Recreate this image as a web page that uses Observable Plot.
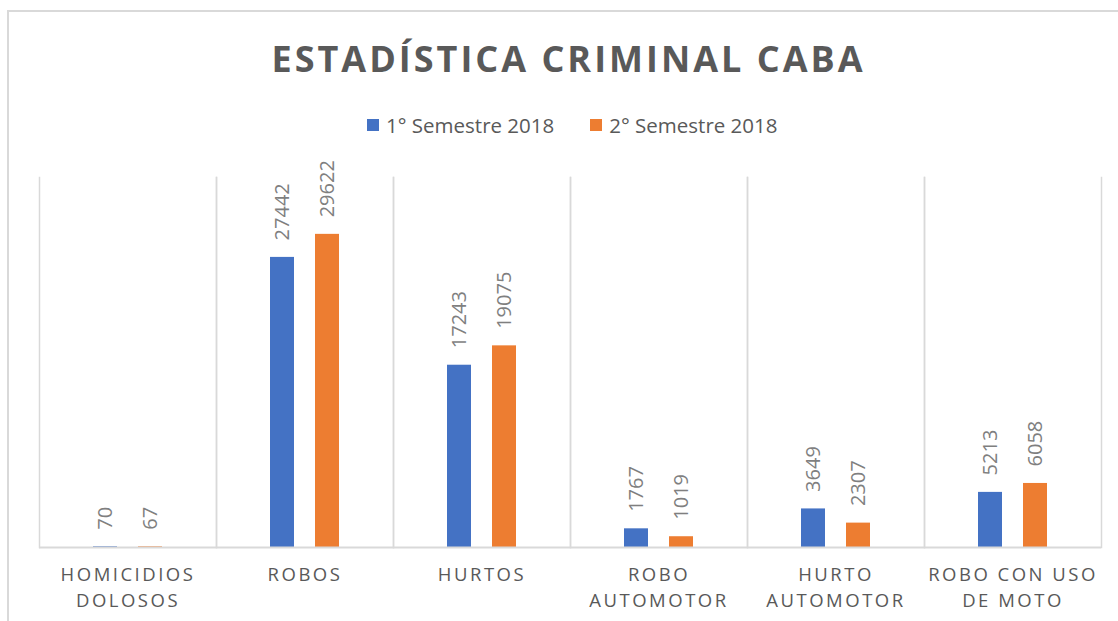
<!DOCTYPE html>
<html>
<head>
<meta charset="utf-8">
<script src="https://cdn.jsdelivr.net/npm/d3@7"></script>
<script src="https://cdn.jsdelivr.net/npm/@observablehq/plot@0.6"></script>
<style>
  html, body { margin: 0; padding: 0; background: #fff; }
  #wrap { position: relative; width: 1118px; height: 621px; overflow: hidden; font-family: "Open Sans", sans-serif; }
  #border { position: absolute; left: 7px; top: 10px; width: 1200px; height: 700px; border: 2px solid #D9D9D9; box-sizing: border-box; }
  #title { position: absolute; left: 0; top: 34px; width: 1137px; text-align: center; font-size: 36px; font-weight: 700; color: #595959; letter-spacing: 3px; }
  #legend { position: absolute; left: 367px; top: 111px; display: flex; align-items: center; font-size: 20.5px; color: #595959; }
  .sw { display: inline-block; width: 12px; height: 12px; margin-right: 7px; }
  .item { display: flex; align-items: center; margin-right: 36px; }
  #chart { position: absolute; left: 0; top: 160px; }
  #chart svg [aria-label="fx-axis tick label"] text { letter-spacing: 2.5px; }
</style>
</head>
<body>
<div id="wrap">
  <div id="border"></div>
  <div id="title"></div>
  <div id="legend"></div>
  <div id="chart"></div>
</div>
<script>
const title = "ESTADÍSTICA CRIMINAL CABA";
const categories = ["HOMICIDIOS DOLOSOS", "ROBOS", "HURTOS", "ROBO AUTOMOTOR", "HURTO AUTOMOTOR", "ROBO CON USO DE MOTO"];
const tickLabels = ["HOMICIDIOS\nDOLOSOS", "ROBOS", "HURTOS", "ROBO\nAUTOMOTOR", "HURTO\nAUTOMOTOR", "ROBO CON USO\nDE MOTO"];
const series = ["1° Semestre 2018", "2° Semestre 2018"];
const colors = ["#4472C4", "#ED7D31"];
const sem1 = [70, 27442, 17243, 1767, 3649, 5213];
const sem2 = [67, 29622, 19075, 1019, 2307, 6058];

document.getElementById("title").textContent = title;
const legend = document.getElementById("legend");
series.forEach((s, i) => {
  const it = document.createElement("div");
  it.className = "item";
  const sw = document.createElement("span");
  sw.className = "sw";
  sw.style.background = colors[i];
  const t = document.createElement("span");
  t.textContent = s;
  it.appendChild(sw); it.appendChild(t);
  legend.appendChild(it);
});

const rows = categories.flatMap((c, i) => [
  {cat: c, serie: series[0], value: sem1[i]},
  {cat: c, serie: series[1], value: sem2[i]}
]);

const chart = Plot.plot({
  width: 1118,
  height: 461,
  marginTop: 17,
  marginBottom: 74,
  marginLeft: 37,
  marginRight: 16,
  style: {fontFamily: "Open Sans", background: "transparent"},
  fx: {domain: categories, padding: 0, label: null},
  x: {domain: series, paddingInner: 0.457, paddingOuter: 1.158, axis: null},
  y: {domain: [0, 35000], axis: null},
  color: {domain: series, range: colors},
  marks: [
    Plot.frame({anchor: "left", stroke: "#D9D9D9", strokeWidth: 1.5}),
    Plot.frame({anchor: "right", stroke: "#D9D9D9", strokeWidth: 1.5}),
    Plot.barY(rows, {fx: "cat", x: "serie", y: "value", fill: "serie"}),
    Plot.ruleY([0], {stroke: "#D9D9D9", strokeWidth: 2}),
    Plot.text(rows, {fx: "cat", x: "serie", y: "value", text: d => String(d.value), rotate: -90, textAnchor: "start", dy: -17, fill: "#7F7F7F", fontSize: 20}),
    Plot.axisFx({anchor: "bottom", tickSize: 0, tickPadding: 15, tickFormat: c => tickLabels[categories.indexOf(c)], fontSize: 18.5, lineHeight: 1.42, fill: "#595959", label: null})
  ]
});
document.getElementById("chart").appendChild(chart);
</script>
</body>
</html>
